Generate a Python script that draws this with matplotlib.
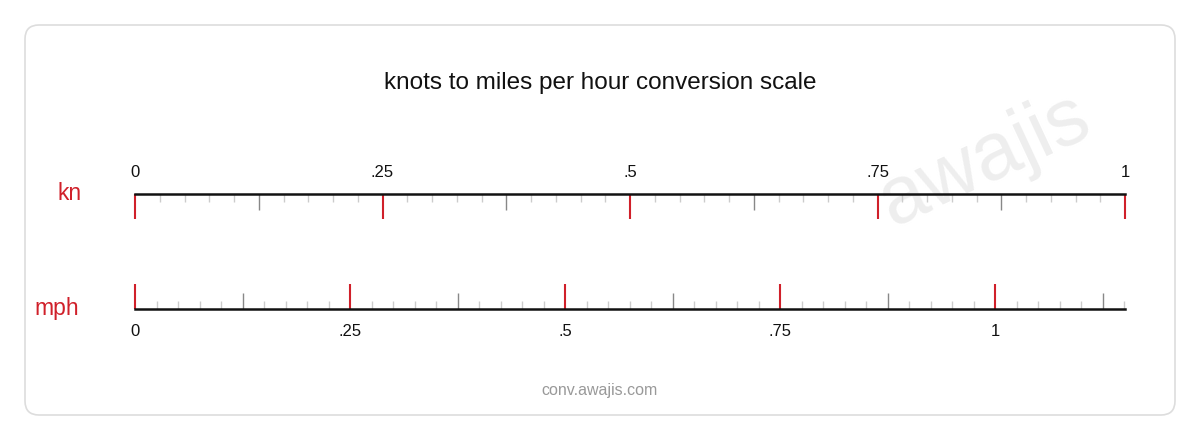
import numpy as np
import matplotlib
matplotlib.use("Agg")
import matplotlib.pyplot as plt
from matplotlib.patches import FancyBboxPatch

plt.rcParams['font.family'] = ['Liberation Sans', 'DejaVu Sans']

title = "knots to miles per hour conversion scale"
kn_max = 1.0
mph_max = 1.15078
kn_labels = ["0", ".25", ".5", ".75", "1"]
mph_labels = ["0", ".25", ".5", ".75", "1"]
major_vals = [0, 0.25, 0.5, 0.75, 1.0]

W, H = 1200, 440
fig = plt.figure(figsize=(12, 4.4), dpi=100)
RED = "#d0202a"

bg = fig.add_axes([0, 0, 1, 1]); bg.set_xlim(0, W); bg.set_ylim(H, 0); bg.axis("off")
bg.add_patch(FancyBboxPatch((25, 25), 1150, 390, boxstyle="round,pad=0,rounding_size=14",
                            fc="white", ec="#dddddd", lw=1.2, zorder=0))
bg.text(600, 83, title, ha="center", va="center", fontsize=17.5, color="#111111")
bg.text(985, 160, "awajis", ha="center", va="center", fontsize=58, color="#eeeeee",
        rotation=25, zorder=1)
bg.text(600, 391, "conv.awajis.com", ha="center", va="center", fontsize=11.5, color="#999999")
bg.text(70, 193, "kn", ha="center", va="center", fontsize=16.5, color=RED)
bg.text(57, 309, "mph", ha="center", va="center", fontsize=16.5, color=RED)

def scale(ytop_px, maxv, labels, flip):
    h = 40
    if not flip:
        ax = fig.add_axes([135/W, 1-(ytop_px+h)/H, 990/W, h/H]); ax.set_ylim(-h, 0)
        line_y, sgn = 0, -1
    else:
        ax = fig.add_axes([135/W, 1-ytop_px/H, 990/W, h/H]); ax.set_ylim(0, h)
        line_y, sgn = 0, 1
    ax.set_xlim(0, maxv); ax.axis("off")
    minors = np.arange(0, maxv + 1e-9, 0.025)
    for v in minors:
        k = round(v / 0.025)
        if k % 10 == 0:
            ln, c, lw = 25, RED, 1.5
        elif k % 5 == 0:
            ln, c, lw = 16, "#888888", 1.0
        else:
            ln, c, lw = 8, "#cccccc", 1.0
        ax.plot([v, v], [line_y, line_y + sgn*ln], color=c, lw=lw, solid_capstyle="butt", clip_on=False)
    ax.plot([0, maxv], [line_y, line_y], color="#111111", lw=1.8, clip_on=False)
    for v, lab in zip(major_vals, labels):
        ax.annotate(lab, (v, line_y), xytext=(0, -sgn*22), textcoords="offset pixels",
                    ha="center", va="center", fontsize=12, color="#111111", annotation_clip=False)
    return ax

scale(194, kn_max, kn_labels, False)
scale(309, mph_max, mph_labels, True)

fig.savefig("out.png", dpi=100)
